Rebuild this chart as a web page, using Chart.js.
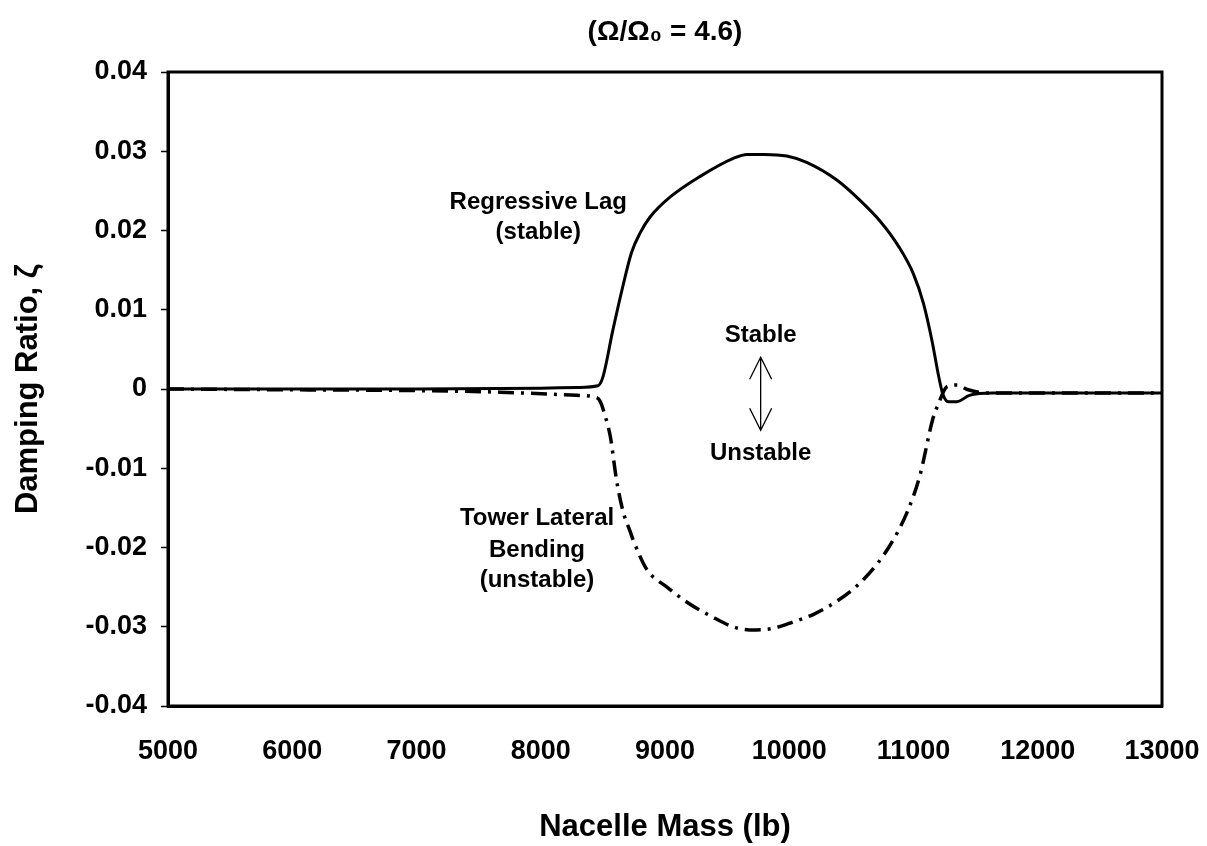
<!DOCTYPE html>
<html>
<head>
<meta charset="utf-8">
<title>Damping ratio vs nacelle mass</title>
<script src="https://cdn.jsdelivr.net/npm/chart.js@4.4.1/dist/chart.umd.min.js"></script>
<style>
  html, body { margin: 0; padding: 0; background: #fff; overflow: hidden; }
  #wrap { width: 1207px; height: 846px; position: relative; }
  canvas { display: block; }
</style>
</head>
<body>
<div id="wrap"><canvas id="damping-chart"></canvas></div>
<script>
// Damping ratio of the two coupled modes vs nacelle mass (Omega/Omega0 = 4.6)

// Regressive lag mode (solid line)
const lagMass = [5000, 6000, 7000, 8000, 8300, 8460, 8500, 8580, 8660, 8730, 8800, 8880,
  9040, 9280, 9550, 9660, 9800, 9980, 10140, 10380, 10570, 10730, 10880, 11000, 11080,
  11150, 11200, 11235, 11280, 11350, 11450, 11640, 12180, 13000];
const lagDamping = [0, 0, 0, 0.0001, 0.0002, 0.0004, 0.0015, 0.0074, 0.0129, 0.0172, 0.0197, 0.0217,
  0.0242, 0.0268, 0.0291, 0.0296, 0.0296, 0.0294, 0.0286, 0.0264, 0.0238, 0.0212, 0.0180, 0.0145, 0.0108,
  0.0060, 0.0018, -0.0006, -0.0016, -0.0016, -0.0008, -0.0005, -0.0005, -0.0005];

// Tower lateral bending mode (dash-dot line)
const towerMass = [5000, 6000, 7000, 7670, 8290, 8450, 8480, 8520, 8560, 8610, 8660, 8720,
  8745, 8855, 9016, 9177, 9386, 9547, 9684, 9869, 10030, 10200, 10400, 10600, 10800,
  10950, 11050, 11157, 11197, 11270, 11350, 11440, 11590, 12200, 13000];
const towerDamping = [0, -0.0001, -0.0002, -0.0004, -0.0008, -0.0011, -0.0016, -0.0035, -0.006, -0.0115, -0.0153, -0.018,
  -0.0191, -0.0228, -0.025, -0.0269, -0.0288, -0.03, -0.0304, -0.0302, -0.0294, -0.0284, -0.0266, -0.024, -0.02,
  -0.0155, -0.011, -0.0037, -0.002, 0.0003, 0.0005, -0.0001, -0.0005, -0.0005, -0.0005];

// Axis ranges / ticks
const massTicks = [5000, 6000, 7000, 8000, 9000, 10000, 11000, 12000, 13000];
const dampingTicks = [0.04, 0.03, 0.02, 0.01, 0, -0.01, -0.02, -0.03, -0.04];

// Text placed on the plot (in data units)
const calloutLabels = [
  { text: 'Regressive Lag', mass: 7980, damping: 0.0235 },
  { text: '(stable)', mass: 7980, damping: 0.0198 },
  { text: 'Stable', mass: 9770, damping: 0.0068 },
  { text: 'Unstable', mass: 9770, damping: -0.0081 },
  { text: 'Tower Lateral', mass: 7970, damping: -0.0163 },
  { text: 'Bending', mass: 7970, damping: -0.0203 },
  { text: '(unstable)', mass: 7970, damping: -0.0241 }
];
const stabilityArrow = { mass: 9770, top: 0.0040, bottom: -0.0052 };

const FONT = "'Liberation Sans', Arial, Helvetica, sans-serif";

const toPoints = (xs, ys) => xs.map((x, i) => ({ x: x, y: ys[i] }));

// Box around plot area, callout text and the stable/unstable arrow
const plotDecor = {
  id: 'plotDecor',
  afterDatasetsDraw(chart) {
    const { ctx, chartArea, scales } = chart;
    const xs = scales.x;
    const ys = scales.y;
    ctx.save();

    // frame
    ctx.strokeStyle = '#000';
    ctx.lineWidth = 3;
    ctx.strokeRect(chartArea.left, chartArea.top, chartArea.right - chartArea.left, chartArea.bottom - chartArea.top);

    // labels
    ctx.fillStyle = '#000';
    ctx.font = 'bold 24px ' + FONT;
    ctx.textAlign = 'center';
    ctx.textBaseline = 'middle';
    calloutLabels.forEach(l => {
      ctx.fillText(l.text, xs.getPixelForValue(l.mass), ys.getPixelForValue(l.damping));
    });

    // double arrow
    const ax = xs.getPixelForValue(stabilityArrow.mass);
    const yTop = ys.getPixelForValue(stabilityArrow.top);
    const yBot = ys.getPixelForValue(stabilityArrow.bottom);
    ctx.lineWidth = 1.3;
    ctx.beginPath();
    ctx.moveTo(ax, yTop);
    ctx.lineTo(ax, yBot);
    ctx.moveTo(ax - 11, yTop + 22);
    ctx.lineTo(ax, yTop);
    ctx.lineTo(ax + 11, yTop + 22);
    ctx.moveTo(ax - 11, yBot - 22);
    ctx.lineTo(ax, yBot);
    ctx.lineTo(ax + 11, yBot - 22);
    ctx.stroke();

    ctx.restore();
  }
};

const ctx = document.getElementById('damping-chart').getContext('2d');

new Chart(ctx, {
  type: 'line',
  data: {
    datasets: [
      {
        label: 'Regressive Lag (stable)',
        data: toPoints(lagMass, lagDamping),
        borderColor: '#000',
        borderWidth: 3,
        pointRadius: 0,
        fill: false,
        cubicInterpolationMode: 'monotone'
      },
      {
        label: 'Tower Lateral Bending (unstable)',
        data: toPoints(towerMass, towerDamping),
        borderColor: '#000',
        borderWidth: 3.5,
        borderDash: [16, 7, 3, 7],
        pointRadius: 0,
        fill: false,
        cubicInterpolationMode: 'monotone'
      }
    ]
  },
  options: {
    responsive: true,
    maintainAspectRatio: false,
    animation: false,
    devicePixelRatio: 1,
    layout: {
      padding: { top: 0, left: 0, right: 45, bottom: 0 }
    },
    plugins: {
      legend: { display: false },
      tooltip: { enabled: false },
      title: {
        display: true,
        fullSize: false,
        text: '(\u03A9/\u03A9\u2080 = 4.6)',
        color: '#000',
        font: { family: FONT, size: 28, weight: 'bold' },
        padding: { top: 15, bottom: 23.4 }
      }
    },
    scales: {
      x: {
        type: 'linear',
        min: massTicks[0],
        max: massTicks[massTicks.length - 1],
        afterBuildTicks: (scale) => {
          scale.ticks = massTicks.map(v => ({ value: v }));
        },
        afterFit: (scale) => {
          scale.height = 140;
          // keep the last tick label from shrinking the plot area
          scale.paddingRight = 0;
        },
        grid: { display: false, drawTicks: false },
        border: { display: true, color: '#000', width: 3 },
        ticks: {
          color: '#000',
          padding: 29,
          font: { family: FONT, size: 27, weight: 'bold' },
          callback: (value) => String(value)
        },
        title: {
          display: true,
          text: 'Nacelle Mass (lb)',
          color: '#000',
          font: { family: FONT, size: 31, weight: 'bold' },
          padding: { top: 0, bottom: 0 }
        }
      },
      y: {
        min: dampingTicks[dampingTicks.length - 1],
        max: dampingTicks[0],
        afterBuildTicks: (scale) => {
          scale.ticks = dampingTicks.map(v => ({ value: v }));
        },
        afterFit: (scale) => {
          scale.width = 168;
        },
        grid: {
          display: true,
          drawOnChartArea: false,
          drawTicks: true,
          tickLength: 7,
          tickWidth: 1.5,
          tickColor: '#000'
        },
        border: { display: true, color: '#000', width: 3 },
        ticks: {
          color: '#000',
          padding: 14,
          font: { family: FONT, size: 27, weight: 'bold' },
          callback: (value) => Math.abs(value) < 1e-9 ? '0' : value.toFixed(2)
        },
        title: {
          display: true,
          text: 'Damping Ratio, \u03B6',
          color: '#000',
          font: { family: FONT, size: 31, weight: 'bold' },
          padding: { top: 10, bottom: 0 }
        }
      }
    }
  },
  plugins: [plotDecor]
});
</script>
</body>
</html>
